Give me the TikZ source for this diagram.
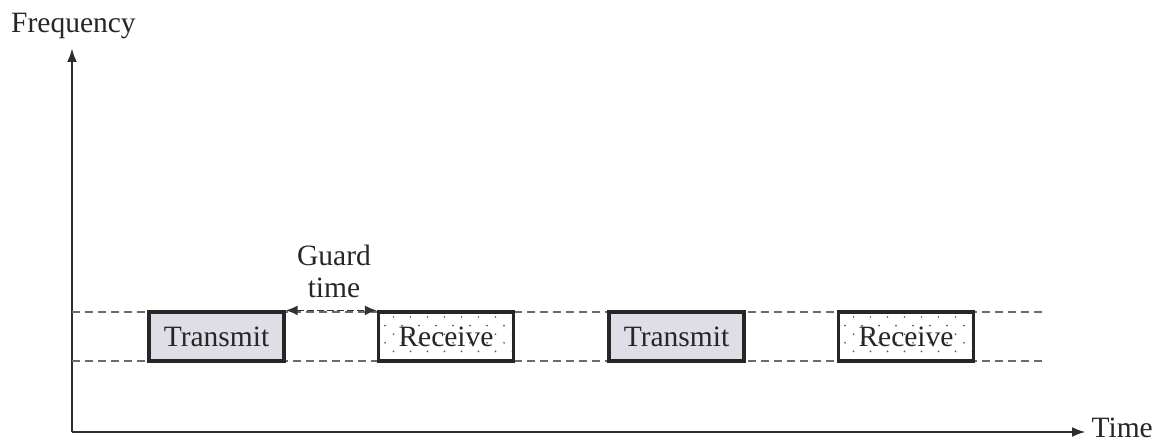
\documentclass[tikz,border=0pt]{standalone}
\usepackage{fontspec}
\setmainfont{Liberation Serif}
\usetikzlibrary{arrows.meta}
\definecolor{txgray}{RGB}{222,222,230}
% staggered dot texture for a receive slot centred at #1 (135 x 49)
\newcommand\rxdots[1]{%
  \begin{scope}
    \clip ([shift={(-67.5,-24.5)}]#1) rectangle ([shift={(67.5,24.5)}]#1);
    \foreach \r in {0,...,4}{
      \foreach \c in {0,...,8}{
        \pgfmathsetmacro\ddx{15 + \c*17 - mod(\r,2)*8.5 - 67.5}
        \pgfmathsetmacro\ddy{5 + \r*8.6 - 24.5}
        \fill[black!65] ([shift={(\ddx,\ddy)}]#1) circle (0.95pt);
      }
    }
  \end{scope}}
\begin{document}
\begin{tikzpicture}[x=1pt,y=-1pt,
  lbl/.style={font=\fontsize{29.5}{34}\selectfont, text=black!85, inner sep=0pt},
  axis/.style={line width=2.8pt, draw=black!82, -{Latex[length=14pt,width=10pt]}},
  band/.style={dash pattern=on 8pt off 5pt, line width=1.7pt, draw=black!58},
  slot/.style={draw=black!85, line width=3.2pt, minimum width=135pt, minimum height=49pt,
    inner sep=0pt, lbl},
  txslot/.style={slot, fill=txgray},
  rxslot/.style={slot},
  guard/.style={line width=1.7pt, draw=black!80, dash pattern=on 7pt off 3pt,
    {Latex[length=12pt,width=10pt]}-{Latex[length=12pt,width=10pt]}}]
\useasboundingbox (0,0) rectangle (1158,441);

% axes
\coordinate (origin) at (72,432);
\coordinate (ftop) at (72,48);
\coordinate (tend) at (1086,432);
\draw[axis] (origin) -- (ftop);
\draw[axis] (origin) -- (tend);
\node[lbl, anchor=base west] (flabel) at (11,33) {Frequency};
\node[lbl, anchor=base east] (tlabel) at (1153,437) {Time};

% frequency band edges
\coordinate (bt0) at (72,312);
\coordinate (bt1) at (1045,312);
\coordinate (bb0) at (72,361);
\coordinate (bb1) at (1045,361);
\draw[band] (bt0) -- (bt1);
\draw[band] (bb0) -- (bb1);

% slot centres; dotted texture goes under the receive slots
\coordinate (rx1c) at (446,336.5);
\coordinate (rx2c) at (906,336.5);
\fill[white] ([shift={(-67.5,-24.5)}]rx1c) rectangle ([shift={(67.5,24.5)}]rx1c);
\fill[white] ([shift={(-67.5,-24.5)}]rx2c) rectangle ([shift={(67.5,24.5)}]rx2c);
\rxdots{rx1c}
\rxdots{rx2c}

% time slots
\node[txslot] (tx1) at (216.5,336.5) {Transmit};
\node[rxslot] (rx1) at (rx1c) {Receive};
\node[txslot] (tx2) at (676.5,336.5) {Transmit};
\node[rxslot] (rx2) at (rx2c) {Receive};

% guard interval
\draw[guard] (tx1.north east) -- (rx1.north west);
\node[lbl, anchor=base] (glabel1) at (334,265) {Guard};
\node[lbl, anchor=base] (glabel2) at (334,297) {time};
\end{tikzpicture}
\end{document}
